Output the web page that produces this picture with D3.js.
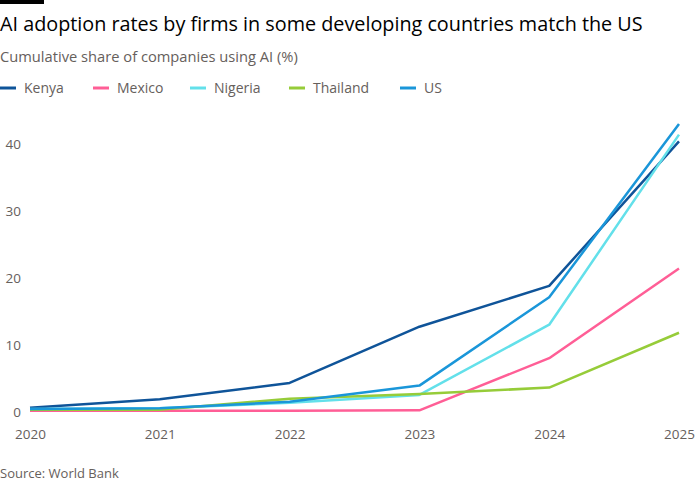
<!DOCTYPE html>
<html>
<head>
<meta charset="utf-8">
<script src="https://cdn.jsdelivr.net/npm/d3@7"></script>
<style>
  body { margin: 0; background: #fff; }
  text { font-family: "Open Sans", sans-serif; }
</style>
</head>
<body>
<div class="chart"></div>
<script>
// Data
const years = [2020, 2021, 2022, 2023, 2024, 2025];
const kenya = [0.6, 1.85, 4.3, 12.7, 18.8, 40.4];
const mexico = [0.15, 0.15, 0.15, 0.2, 8.0, 21.4];
const nigeria = [0.4, 0.5, 1.35, 2.5, 13.0, 41.4];
const thailand = [0.3, 0.3, 1.95, 2.65, 3.6, 11.8];
const us = [0.4, 0.5, 1.5, 3.9, 17.1, 43.0];
const seriesNames = ["Kenya", "Mexico", "Nigeria", "Thailand", "US"];
const yTicks = [0, 10, 20, 30, 40];

const colors = ["#0f5499", "#ff5e96", "#63e0ea", "#96cc39", "#1a96d9"];
const seriesData = [kenya, mexico, nigeria, thailand, us];

const width = 700, height = 500;
const x = d3.scaleLinear().domain([2020, 2025]).range([30, 679]);
const y = d3.scaleLinear().domain([0, 40]).range([411.7, 144]);

const svg = d3.select(".chart").append("svg")
    .attr("width", width)
    .attr("height", height);

// Top black bar
svg.append("rect")
    .attr("x", 0).attr("y", 0)
    .attr("width", 44).attr("height", 4)
    .attr("fill", "#000");

// Title, subtitle
svg.append("text")
    .attr("x", 0).attr("y", 31)
    .attr("font-size", 19.8)
    .attr("fill", "#000")
    .text("AI adoption rates by firms in some developing countries match the US");

svg.append("text")
    .attr("x", 0).attr("y", 62)
    .attr("font-size", 14.7)
    .attr("fill", "#66605c")
    .text("Cumulative share of companies using AI (%)");

// Legend
const legendX = [0, 93, 190, 289, 400];
const legend = svg.append("g").selectAll("g")
    .data(seriesNames)
    .join("g")
    .attr("transform", (d, i) => "translate(" + legendX[i] + ",88)");
legend.append("line")
    .attr("x1", 0).attr("x2", 16)
    .attr("stroke", (d, i) => colors[i])
    .attr("stroke-width", 3);
legend.append("text")
    .attr("x", 24).attr("y", 5)
    .attr("font-size", 14)
    .attr("fill", "#66605c")
    .text(d => d);

// Y axis labels
const yAxis = d3.axisLeft(y).tickValues(yTicks).tickSize(0).tickPadding(0);
svg.append("g")
    .attr("transform", "translate(21,0)")
    .call(yAxis)
    .call(g => g.select(".domain").remove())
    .call(g => g.selectAll("text")
        .attr("font-size", 13.5)
        .attr("fill", "#66605c")
        .attr("dy", "0.35em"));

// X axis labels
const xAxis = d3.axisBottom(x).tickValues(years).tickFormat(d3.format("d")).tickSize(0).tickPadding(0);
svg.append("g")
    .attr("transform", "translate(0,429)")
    .call(xAxis)
    .call(g => g.select(".domain").remove())
    .call(g => g.selectAll("text")
        .attr("font-size", 13.5)
        .attr("fill", "#66605c"));

// Lines
const line = d3.line()
    .x((d, i) => x(years[i]))
    .y(d => y(d));

svg.append("g").selectAll("path")
    .data(seriesData)
    .join("path")
    .attr("fill", "none")
    .attr("stroke", (d, i) => colors[i])
    .attr("stroke-width", 2.5)
    .attr("stroke-linejoin", "round")
    .attr("d", line);

// Source
svg.append("text")
    .attr("x", 0).attr("y", 478)
    .attr("font-size", 13)
    .attr("fill", "#66605c")
    .text("Source: World Bank");
</script>
</body>
</html>
